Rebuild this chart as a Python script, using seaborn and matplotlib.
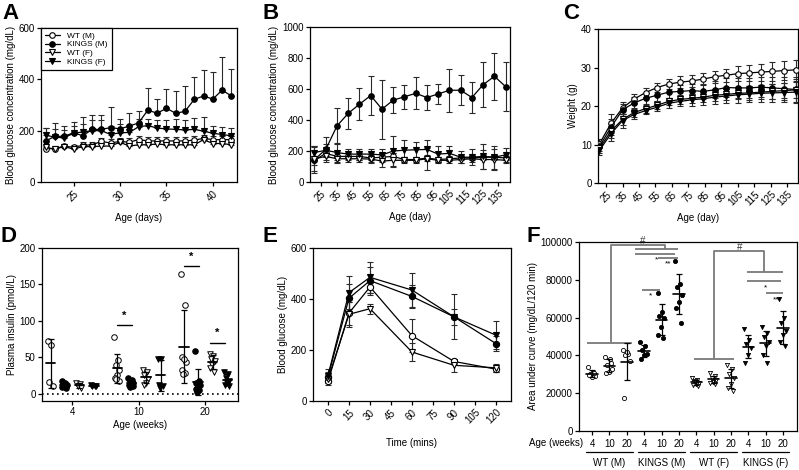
import numpy as np
import pandas as pd
import matplotlib
matplotlib.use("Agg")
import matplotlib.pyplot as plt
import seaborn as sns
from matplotlib.lines import Line2D
from matplotlib.transforms import blended_transform_factory as btf

# ---------------- data ----------------
GROUPS = ["WT (M)", "KINGS (M)", "WT (F)", "KINGS (F)"]

# Panel A: blood glucose, days 22-42 (mean, upper SD)
days_a = list(range(22, 43))
a_wt_m = [130, 130, 140, 135, 143, 145, 158, 152, 158, 155, 165, 160, 160, 160, 160, 160, 163, 170, 165, 165, 165]
a_wt_m_sd = [12, 12, 10, 10, 12, 12, 15, 15, 15, 15, 15, 15, 15, 15, 15, 15, 15, 15, 15, 15, 15]
a_kings_m = [160, 178, 178, 192, 180, 205, 205, 212, 207, 218, 230, 280, 268, 287, 268, 275, 322, 335, 323, 358, 335]
a_kings_m_sd = [52, 50, 40, 43, 75, 57, 57, 80, 38, 52, 48, 85, 54, 75, 87, 98, 86, 100, 105, 130, 105]
a_wt_f = [135, 128, 138, 128, 138, 138, 140, 140, 155, 140, 145, 145, 148, 145, 145, 145, 145, 165, 150, 150, 145]
a_wt_f_sd = [10, 10, 8, 10, 8, 10, 10, 10, 10, 10, 10, 12, 12, 12, 12, 12, 12, 12, 12, 10, 10]
a_kings_f = [182, 175, 172, 190, 195, 200, 200, 185, 192, 193, 215, 220, 210, 207, 205, 203, 205, 198, 190, 185, 180]
a_kings_f_sd = [30, 30, 30, 30, 30, 40, 40, 35, 35, 30, 30, 25, 30, 35, 40, 40, 45, 55, 30, 30, 30]

# Panel B: blood glucose, days 21-140 weekly
days_b = list(range(21, 141, 7))
b_wt_m = [140, 185, 165, 165, 165, 155, 160, 165, 145, 145, 155, 145, 150, 155, 155, 160, 160, 155]
b_wt_m_sd = [30, 25, 25, 25, 25, 25, 30, 25, 15, 15, 20, 15, 15, 15, 15, 15, 15, 15]
b_kings_m = [145, 210, 362, 443, 502, 558, 470, 528, 550, 572, 545, 568, 592, 592, 545, 628, 682, 615]
b_kings_m_sd = [85, 80, 115, 98, 105, 125, 190, 82, 77, 104, 83, 64, 140, 96, 102, 145, 152, 156]
b_wt_f = [150, 165, 150, 150, 150, 148, 135, 140, 140, 140, 150, 140, 140, 145, 150, 145, 145, 140]
b_wt_f_sd = [80, 25, 25, 20, 20, 25, 40, 45, 20, 20, 70, 20, 20, 20, 20, 60, 70, 20]
b_kings_f = [190, 205, 190, 180, 180, 180, 175, 200, 205, 208, 210, 180, 185, 160, 160, 165, 160, 175]
b_kings_f_sd = [35, 40, 60, 30, 35, 35, 40, 98, 65, 50, 60, 50, 45, 40, 50, 80, 75, 45]

# Panel C: weight (g)
c_wt_m = [10.2, 15.5, 19.5, 21.8, 23.5, 24.8, 25.7, 26.2, 26.5, 27.0, 27.6, 28.0, 28.4, 28.6, 28.8, 29.0, 29.2, 29.4]
c_wt_m_sd = [1.2, 2.5, 1.6, 1.2, 1.2, 1.2, 1.3, 1.5, 1.5, 1.6, 1.6, 1.7, 2.0, 2.0, 2.2, 2.5, 2.5, 2.5]
c_kings_m = [9.5, 14.5, 19.0, 20.8, 22.0, 22.8, 23.6, 23.8, 24.0, 23.8, 24.2, 24.8, 24.7, 24.7, 24.9, 24.7, 24.5, 24.3]
c_kings_m_sd = [1.2, 2.0, 1.5, 1.5, 1.5, 1.5, 1.5, 1.6, 1.8, 2.0, 2.2, 2.5, 2.5, 2.5, 2.6, 2.8, 3.0, 3.2]
c_wt_f = [9.0, 13.5, 16.5, 18.3, 19.3, 20.2, 21.2, 21.7, 22.0, 22.3, 22.8, 23.0, 23.3, 23.4, 23.6, 23.8, 24.0, 24.2]
c_wt_f_sd = [1.2, 1.8, 1.5, 1.2, 1.0, 1.0, 1.0, 1.2, 1.2, 1.3, 1.5, 1.5, 1.6, 1.8, 1.8, 2.0, 2.0, 2.2]
c_kings_f = [8.5, 12.8, 16.2, 17.8, 18.8, 19.7, 20.7, 21.2, 21.6, 21.9, 22.3, 22.6, 22.9, 23.1, 23.3, 23.4, 23.5, 23.6]
c_kings_f_sd = [1.2, 1.8, 1.8, 1.2, 1.0, 1.0, 1.2, 1.3, 1.5, 1.6, 1.8, 1.8, 2.0, 2.0, 2.2, 2.3, 2.5, 2.7]

# Panel D: plasma insulin (pmol/L) per age 4, 10, 20 weeks
d_ages = ["4", "10", "20"]
d_wt_m = [[73, 67, 16, 10], [78, 46, 40, 33, 25, 22, 18, 20], [164, 122, 50, 44, 47, 33, 29, 27]]
d_kings_m = [[18, 15, 13, 12, 10, 9, 8, 12], [22, 19, 17, 15, 13, 12, 10, 9], [59, 18, 15, 12, 10, 7, 5, 3]]
d_wt_f = [[15, 13, 10, 8], [32, 30, 25, 20, 15, 12], [55, 52, 48, 45, 40, 35, 30]]
d_kings_f = [[12, 11, 10, 10], [48, 47, 12, 10, 8], [30, 27, 22, 18, 15, 12, 10]]

# Panel E: OGTT blood glucose
time_e = [0, 15, 30, 60, 90, 120]
e_wt_m = [78, 345, 447, 256, 155, 125]
e_wt_m_sd = [15, 45, 25, 65, 10, 10]
e_kings_m = [95, 403, 472, 410, 330, 225]
e_kings_m_sd = [20, 55, 55, 45, 30, 28]
e_wt_f = [85, 340, 362, 192, 140, 130]
e_wt_f_sd = [15, 50, 20, 35, 25, 15]
e_kings_f = [100, 425, 485, 435, 330, 258]
e_kings_f_sd = [25, 65, 60, 67, 88, 54]

# Panel F: area under curve per group x age
f_ages = ["4", "10", "20"]
f_wt_m = [[34000, 31000, 30000, 29000, 28500, 29500, 30500],
          [39000, 38000, 35000, 33000, 31000, 30500, 36000],
          [43000, 41000, 40000, 37000, 42000, 17500]]
f_kings_m = [[47000, 45000, 43000, 41000, 40000, 38000],
             [73000, 63000, 61000, 60000, 55000, 51000, 49000],
             [90000, 78000, 76000, 72000, 68000, 65000, 57000]]
f_wt_f = [[28000, 27000, 26000, 25500, 25000, 24500, 24000, 26500],
          [30500, 29000, 28000, 27000, 26000, 25500, 25000],
          [35000, 33000, 30000, 28000, 25000, 23000, 21000]]
f_kings_f = [[54000, 48000, 46000, 44000, 40000, 36000],
             [55000, 52000, 50000, 47000, 45000, 40000, 36000],
             [70000, 60000, 57000, 53000, 51000, 47000, 45000]]

# ---------------- style ----------------
sns.set_theme(style="ticks")
plt.rcParams["font.family"] = ["Liberation Sans", "DejaVu Sans"]
plt.rcParams.update({
    "font.size": 7, "axes.linewidth": 0.9,
    "xtick.major.size": 3, "ytick.major.size": 3,
    "xtick.major.width": 0.9, "ytick.major.width": 0.9,
    "xtick.labelsize": 7, "ytick.labelsize": 7, "axes.labelsize": 7,
    "xtick.major.pad": 1.5, "ytick.major.pad": 1.5, "axes.labelpad": 2,
    "axes.edgecolor": "black", "xtick.color": "black", "ytick.color": "black",
    "text.color": "black", "axes.labelcolor": "black",
})

MK = {"WT (M)": ("o", "white"), "KINGS (M)": ("o", "black"),
      "WT (F)": ("v", "white"), "KINGS (F)": ("v", "black")}

W, H = 799, 470
fig = plt.figure(figsize=(W / 100, H / 100), dpi=100)


def rect(x0, y0, x1, y1):
    return [x0 / W, 1 - y1 / H, (x1 - x0) / W, (y1 - y0) / H]


def line_panel(ax, x, series, upper_only=False, ms=4):
    for name in GROUPS:
        y, e = series[name]
        y = np.asarray(y, float)
        e = np.asarray(e, float)
        yerr = [np.zeros_like(e), e] if upper_only else e
        ax.errorbar(x, y, yerr=yerr, fmt="none", ecolor="#2a2a2a", elinewidth=0.8,
                    capsize=2, capthick=0.8, zorder=2)
        m, fc = MK[name]
        sns.lineplot(x=x, y=y, ax=ax, color="black", lw=0.9, marker=m, markersize=ms,
                     markerfacecolor=fc, markeredgecolor="black", markeredgewidth=0.8,
                     errorbar=None, legend=False, zorder=3)


def rotate_xticks(ax):
    for lbl in ax.get_xticklabels():
        lbl.set_rotation(45)
        lbl.set_ha("right")
        lbl.set_va("top")
        lbl.set_rotation_mode("anchor")


def panel_letter(x, y, s):
    fig.text(x / W, 1 - y / H, s, fontsize=16, fontweight="bold", va="top", ha="left")


def jitter(n, width):
    return np.array([((i * 0.618034) % 1.0 - 0.5) * width for i in range(n)])


# ---------------- A ----------------
axA = fig.add_axes(rect(41, 28, 237, 182))
line_panel(axA, days_a, {"WT (M)": (a_wt_m, a_wt_m_sd), "KINGS (M)": (a_kings_m, a_kings_m_sd),
                         "WT (F)": (a_wt_f, a_wt_f_sd), "KINGS (F)": (a_kings_f, a_kings_f_sd)},
           upper_only=True)
axA.set_xlim(21.5, 42.6)
axA.set_ylim(0, 600)
axA.set_yticks([0, 200, 400, 600])
axA.set_xticks([25, 30, 35, 40])
rotate_xticks(axA)
axA.set_xlabel("Age (days)", labelpad=7)
axA.set_ylabel("Blood glucose concentration (mg/dL)")
handles = [Line2D([], [], color="black", lw=0.9, marker=MK[g][0], markersize=4,
                  markerfacecolor=MK[g][1], markeredgecolor="black", markeredgewidth=0.8) for g in GROUPS]
leg = axA.legend(handles, GROUPS, loc="upper left", bbox_to_anchor=(0, 1), borderaxespad=0,
                 frameon=True, fancybox=False, edgecolor="black", fontsize=6, labelspacing=0.12,
                 handlelength=1.8, handletextpad=0.9, borderpad=0.45)
leg.get_frame().set_linewidth(0.9)
leg.get_frame().set_facecolor("white")
leg.get_frame().set_alpha(1)

# ---------------- B ----------------
axB = fig.add_axes(rect(310, 27, 510, 182))
line_panel(axB, days_b, {"WT (M)": (b_wt_m, b_wt_m_sd), "KINGS (M)": (b_kings_m, b_kings_m_sd),
                         "WT (F)": (b_wt_f, b_wt_f_sd), "KINGS (F)": (b_kings_f, b_kings_f_sd)})
axB.set_xlim(18.2, 142.7)
axB.set_ylim(0, 1000)
axB.set_yticks(range(0, 1001, 200))
axB.set_xticks(range(25, 136, 10))
rotate_xticks(axB)
axB.set_xlabel("Age (day)", labelpad=4)
axB.set_ylabel("Blood glucose concentration (mg/dL)")

# ---------------- C ----------------
axC = fig.add_axes(rect(598, 29, 798, 183))
line_panel(axC, days_b, {"WT (M)": (c_wt_m, c_wt_m_sd), "KINGS (M)": (c_kings_m, c_kings_m_sd),
                         "WT (F)": (c_wt_f, c_wt_f_sd), "KINGS (F)": (c_kings_f, c_kings_f_sd)})
axC.set_xlim(20.1, 141.5)
axC.set_ylim(0, 40)
axC.set_yticks(range(0, 41, 10))
axC.set_xticks(range(25, 136, 10))
rotate_xticks(axC)
axC.set_xlabel("Age (day)", labelpad=4)
axC.set_ylabel("Weight (g)")

# ---------------- D ----------------
axD = fig.add_axes(rect(42, 248, 238, 401))
d_sets = {"WT (M)": d_wt_m, "KINGS (M)": d_kings_m, "WT (F)": d_wt_f, "KINGS (F)": d_kings_f}
offs = {"WT (M)": -0.32, "KINGS (M)": -0.11, "WT (F)": 0.11, "KINGS (F)": 0.33}
rows = []
for g in GROUPS:
    for i, age in enumerate(d_ages):
        vals = d_sets[g][i]
        xs = i + offs[g] + jitter(len(vals), 0.09)
        for xv, yv in zip(xs, vals):
            rows.append({"group": g, "age": age, "x": xv, "y": yv})
dfD = pd.DataFrame(rows)
for g in GROUPS:
    sub = dfD[dfD.group == g]
    sns.scatterplot(data=sub, x="x", y="y", ax=axD, marker=MK[g][0], s=16,
                    facecolor=MK[g][1], edgecolor="black", linewidth=0.7, zorder=3, legend=False)
    for i, age in enumerate(d_ages):
        v = np.asarray(d_sets[g][i], float)
        mu, sd = v.mean(), v.std(ddof=1)
        xc = i + offs[g]
        axD.errorbar([xc], [mu], yerr=[sd], fmt="none", ecolor="black", elinewidth=0.9,
                     capsize=2, capthick=0.9, zorder=4)
        axD.plot([xc - 0.07, xc + 0.07], [mu, mu], color="black", lw=1.3, zorder=4)
axD.axhline(0, color="black", lw=1.2, ls=(0, (1, 2)), zorder=1)
for (x0, x1, yl) in [(0.68, 0.90, 94), (1.68, 1.90, 175), (2.07, 2.30, 70)]:
    axD.plot([x0, x1], [yl, yl], color="black", lw=1.0)
    axD.text((x0 + x1) / 2, yl + 6, "*", ha="center", va="bottom", fontsize=8, fontweight="bold")
axD.set_xlim(-0.45, 2.49)
axD.set_ylim(-10, 200)
axD.set_yticks([0, 50, 100, 150, 200])
axD.set_xticks([0, 1, 2])
axD.set_xticklabels(d_ages)
axD.set_xlabel("Age (weeks)")
axD.set_ylabel("Plasma insulin (pmol/L)")

# ---------------- E ----------------
axE = fig.add_axes(rect(313, 248, 511, 401))
line_panel(axE, time_e, {"WT (M)": (e_wt_m, e_wt_m_sd), "KINGS (M)": (e_kings_m, e_kings_m_sd),
                         "WT (F)": (e_wt_f, e_wt_f_sd), "KINGS (F)": (e_kings_f, e_kings_f_sd)}, ms=4.5)
axE.set_xlim(-10.7, 130.7)
axE.set_ylim(0, 600)
axE.set_yticks([0, 200, 400, 600])
axE.set_xticks(range(0, 121, 15))
rotate_xticks(axE)
axE.set_xlabel("Time (mins)", labelpad=9)
axE.set_ylabel("Blood glucose (mg/dL)")

# ---------------- F ----------------
axF = fig.add_axes(rect(579, 242, 797, 431))
f_sets = {"WT (M)": f_wt_m, "KINGS (M)": f_kings_m, "WT (F)": f_wt_f, "KINGS (F)": f_kings_f}
rows = []
for gi, g in enumerate(GROUPS):
    for i, age in enumerate(f_ages):
        vals = f_sets[g][i]
        xs = gi * 3 + i + jitter(len(vals), 0.45)
        for xv, yv in zip(xs, vals):
            rows.append({"group": g, "age": age, "x": xv, "y": yv})
dfF = pd.DataFrame(rows)
for gi, g in enumerate(GROUPS):
    sub = dfF[dfF.group == g]
    sns.scatterplot(data=sub, x="x", y="y", ax=axF, marker=MK[g][0], s=9,
                    facecolor=MK[g][1], edgecolor="black", linewidth=0.6, zorder=3, legend=False)
    for i, age in enumerate(f_ages):
        v = np.asarray(f_sets[g][i], float)
        mu, sd = v.mean(), v.std(ddof=1)
        xc = gi * 3 + i
        axF.errorbar([xc], [mu], yerr=[sd], fmt="none", ecolor="black", elinewidth=0.9,
                     capsize=2, capthick=0.9, zorder=4)
        axF.plot([xc - 0.33, xc + 0.33], [mu, mu], color="black", lw=1.2, zorder=4)

gray = "#7a7a7a"
brackets = [
    [(-0.3, 46500), (2.3, 46500)], [(1.1, 46500), (1.1, 98400), (4.2, 98400), (4.2, 96300)],
    [(2.5, 96300), (4.95, 96300)], [(2.5, 93600), (4.75, 93600)], [(3.8, 91500), (4.95, 91500)],
    [(2.85, 74600), (3.9, 74600)],
    [(5.86, 38100), (8.2, 38100)], [(7.0, 38100), (7.0, 95400), (9.9, 95400), (9.9, 84300)],
    [(8.9, 84300), (11.0, 84300)], [(8.9, 79500), (10.9, 79500)], [(10.0, 73200), (11.0, 73200)],
]
for seg in brackets:
    xs, ys = zip(*seg)
    axF.plot(xs, ys, color=gray, lw=1.3, zorder=2, solid_capstyle="butt")
for (tx, ty, s) in [(2.9, 98400, "#"), (8.5, 95400, "#")]:
    axF.text(tx, ty - 600, s, ha="center", va="bottom", fontsize=7, color="#333333")
for (tx, ty, s) in [(3.7, 90600, "*"), (4.4, 88400, "**"), (3.37, 71500, "*"),
                    (10.0, 75800, "*"), (10.6, 69500, "**")]:
    axF.text(tx, ty, s, ha="center", va="center", fontsize=6, color="black")
axF.set_xlim(-0.75, 11.8)
axF.set_ylim(0, 100000)
axF.set_yticks(range(0, 100001, 20000))
axF.set_xticks(range(12))
axF.set_xticklabels(f_ages * 4)
axF.tick_params(axis="x", pad=3)
axF.set_xlabel("")
axF.set_ylabel("Area under curve (mg/dL/120 min)")
tr = btf(axF.transData, axF.transAxes)
fig.text(583 / W, 1 - 443 / H, "Age (weeks)", ha="right", va="center", fontsize=7)
for gi, g in enumerate(GROUPS):
    axF.add_line(Line2D([gi * 3 - 0.35, gi * 3 + 2.35], [-0.111, -0.111], transform=tr,
                        color="black", lw=0.9, clip_on=False))
    axF.text(gi * 3 + 1, -0.17, g, transform=tr, ha="center", va="center", fontsize=7)

# ---------------- letters ----------------
panel_letter(2, 3, "A")
panel_letter(262, 3, "B")
panel_letter(563, 3, "C")
panel_letter(0, 226, "D")
panel_letter(262, 226, "E")
panel_letter(527, 226, "F")

fig.savefig("out.png", dpi=100)
